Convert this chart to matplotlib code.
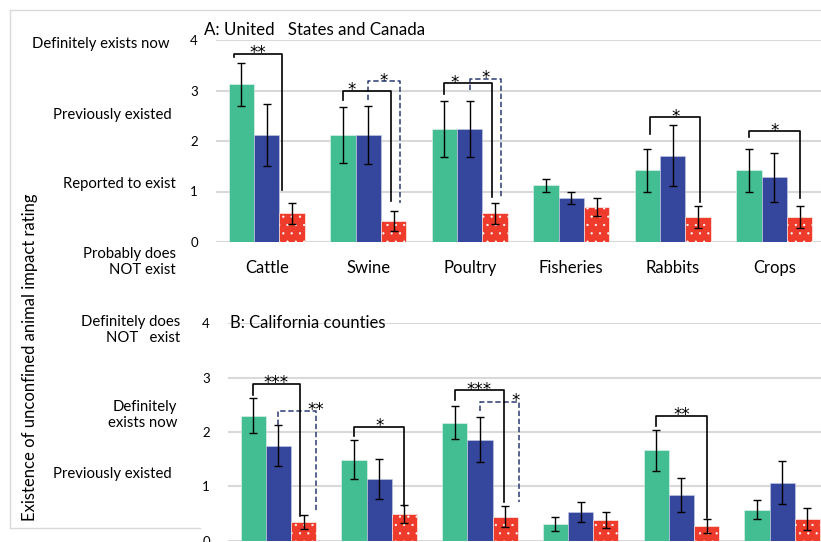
import numpy as np
import matplotlib
matplotlib.use('Agg')
import matplotlib.pyplot as plt
from matplotlib.lines import Line2D

plt.rcParams['font.family'] = ['Lato', 'DejaVu Sans']
plt.rcParams['hatch.color'] = 'white'
plt.rcParams['hatch.linewidth'] = 0.4

# Data
categories = ['Cattle', 'Swine', 'Poultry', 'Fisheries', 'Rabbits', 'Crops']

# A: United States and Canada
a_green = [3.12, 2.12, 2.24, 1.12, 1.42, 1.42]
a_green_err = [0.43, 0.55, 0.56, 0.12, 0.43, 0.43]
a_blue = [2.12, 2.12, 2.24, 0.87, 1.71, 1.28]
a_blue_err = [0.61, 0.58, 0.56, 0.12, 0.61, 0.48]
a_red = [0.57, 0.42, 0.57, 0.70, 0.49, 0.49]
a_red_err = [0.21, 0.20, 0.21, 0.18, 0.22, 0.22]

# B: California counties
b_green = [2.30, 1.49, 2.17, 0.30, 1.66, 0.57]
b_green_err = [0.32, 0.36, 0.30, 0.13, 0.38, 0.17]
b_blue = [1.75, 1.13, 1.86, 0.53, 0.84, 1.07]
b_blue_err = [0.38, 0.37, 0.42, 0.19, 0.32, 0.40]
b_red = [0.35, 0.49, 0.44, 0.38, 0.27, 0.40]
b_red_err = [0.13, 0.17, 0.19, 0.14, 0.13, 0.20]

# significance brackets: (category, left offset, right offset, y left leg, y top, y right leg,
#                         label, label x (None = centred), dashed)
a_brackets = [
    (0, -0.32, 0.15, 3.66, 3.73, 1.03, '**', None, False),
    (1, -0.25, 0.22, 2.81, 3.00, 0.81, '*', -0.16, False),
    (1, 0.00, 0.31, 2.81, 3.18, 0.78, '*', None, True),
    (2, -0.25, 0.22, 2.93, 3.14, 0.89, '*', -0.15, False),
    (2, 0.00, 0.31, 3.01, 3.23, 0.89, '*', None, True),
    (4, -0.22, 0.27, 2.14, 2.47, 0.80, '*', None, False),
    (5, -0.25, 0.25, 2.08, 2.19, 0.88, '*', None, False),
]
b_brackets = [
    (0, -0.25, 0.21, 2.68, 2.89, 0.45, '***', None, False),
    (0, 0.00, 0.37, 2.13, 2.39, 0.53, '**', 0.37, True),
    (1, -0.25, 0.25, 1.92, 2.10, 0.64, '*', None, False),
    (2, -0.25, 0.24, 2.59, 2.77, 0.72, '***', None, False),
    (2, 0.00, 0.39, 2.38, 2.56, 0.72, '*', 0.35, True),
    (4, -0.25, 0.25, 2.11, 2.30, 0.41, '**', None, False),
]

left_labels = ['Definitely exists now', 'Previously existed', 'Reported to exist',
               'Probably does\nNOT exist', 'Definitely does\nNOT   exist',
               'Definitely\nexists now', 'Previously existed']

GREEN = '#43bd92'
BLUE = '#35479c'
RED = '#ee3b2b'
GRID = '#d9d9d9'
NAVY = '#2b3a70'

W, H = 821, 542
fig = plt.figure(figsize=(W / 100, H / 100), dpi=100)


def fx(x):
    return x / W


def fy(y):
    return 1 - y / H


# light frame behind the labels
fig.add_artist(Line2D([fx(10), fx(821)], [fy(10), fy(10)], color=GRID, lw=1))
fig.add_artist(Line2D([fx(10), fx(10)], [fy(10), fy(528)], color=GRID, lw=1))
fig.add_artist(Line2D([fx(10), fx(200)], [fy(528), fy(528)], color=GRID, lw=1))

ax_a = fig.add_axes([fx(216), fy(242), fx(821) - fx(216), fy(40) - fy(242)])
ax_b = fig.add_axes([fx(228), fy(540.7), fx(821) - fx(228), fy(323.3) - fy(540.7)])


def draw_panel(ax, green, green_err, blue, blue_err, red, red_err, brackets, xmax, show_cats):
    x = np.arange(len(categories))
    w = 0.25
    ekw = dict(ecolor='black', elinewidth=1.0, capthick=1.0)
    ax.bar(x - w, green, w, color=GREEN, edgecolor='#e8f5ef', linewidth=0.4,
           yerr=green_err, capsize=3.2, error_kw=ekw, zorder=2)
    ax.bar(x, blue, w, color=BLUE, edgecolor='#c9cde6', linewidth=0.4,
           yerr=blue_err, capsize=3.2, error_kw=ekw, zorder=2)
    ax.bar(x + w, red, w, color=RED, edgecolor='white', linewidth=0.4, hatch='..',
           yerr=red_err, capsize=3.2, error_kw=ekw, zorder=2)

    for cat, xl, xr, yl, yt, yr, lab, lpos, dashed in brackets:
        x0 = cat + xl
        x1 = cat + xr
        if dashed:
            ax.plot([x0, x0, x1, x1], [yl, yt, yt, yr], color=NAVY, lw=1.1,
                    ls=(0, (3.5, 1.8)), zorder=4, clip_on=False)
        else:
            ax.plot([x0, x0, x1, x1], [yl, yt, yt, yr], color='black', lw=1.2,
                    zorder=5, clip_on=False)
        lx = (x0 + x1) / 2 if lpos is None else cat + lpos
        ax.annotate(lab, (lx, yt), xytext=(0, -3.2), textcoords='offset points',
                    ha='center', va='baseline', fontsize=12, family='DejaVu Sans',
                    zorder=6, annotation_clip=False)

    ax.set_ylim(0, 4)
    ax.set_xlim(-0.5, xmax)
    ax.set_yticks([0, 1, 2, 3, 4])
    ax.grid(axis='y', color=GRID, lw=1.5, zorder=0)
    ax.set_axisbelow(True)
    for s in ax.spines.values():
        s.set_visible(False)
    ax.tick_params(axis='y', length=0, pad=13, labelsize=9.5)
    ax.set_xticks(x)
    if show_cats:
        ax.set_xticklabels(categories, fontsize=12)
        ax.tick_params(axis='x', length=0, pad=13)
    else:
        ax.set_xticklabels([])
        ax.tick_params(axis='x', length=0)


draw_panel(ax_a, a_green, a_green_err, a_blue, a_blue_err, a_red, a_red_err,
           a_brackets, 5.46, True)
draw_panel(ax_b, b_green, b_green_err, b_blue, b_blue_err, b_red, b_red_err,
           b_brackets, 5.385, False)

fig.text(fx(204), fy(30), 'A: United   States and Canada', fontsize=12.2, va='center')
fig.text(fx(230), fy(323), 'B: California counties', fontsize=12, va='center')

# descriptive labels on the left
label_pos = [(170, 44), (172, 115), (176, 184), (176, 262), (180, 330), (177, 415), (172, 474)]
for txt, (lx, ly) in zip(left_labels, label_pos):
    fig.text(fx(lx), fy(ly), txt, fontsize=10.7, ha='right', va='center',
             multialignment='right', linespacing=1.25)

fig.text(fx(30), fy(357), 'Existence of unconfined animal impact rating', fontsize=12,
         rotation=90, ha='center', va='center')

fig.savefig('out.png', dpi=100)
